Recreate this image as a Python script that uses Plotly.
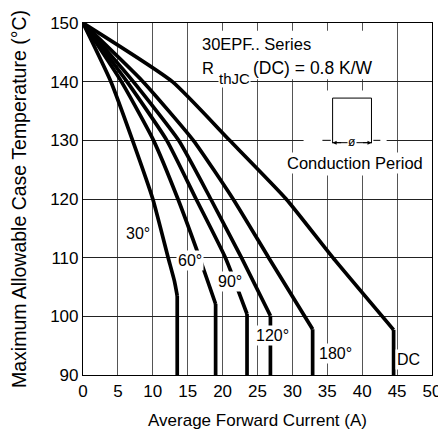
import plotly.graph_objects as go

# ---- data ----
series_names = ["30°", "60°", "90°", "120°", "180°", "DC"]
# curved part of each curve (temperature vs current), ending at the knee
temps_30 = [150, 140, 130, 120, 110, 106, 103.5]
curr_30 = [0, 4.0, 7.1, 10.0, 12.2, 13.1, 13.5]
temps_60 = [150, 140, 130, 120, 110, 102.1]
curr_60 = [0, 5.5, 10.1, 13.6, 16.7, 19.0]
temps_90 = [150, 140, 130, 120, 110, 100.4]
curr_90 = [0, 6.3, 12.0, 16.2, 20.4, 23.5]
temps_120 = [150, 140, 130, 120, 110, 100.1]
curr_120 = [0, 7.2, 13.7, 18.3, 22.7, 26.85]
temps_180 = [150, 140, 130, 120, 110, 97.8]
curr_180 = [0, 8.6, 15.8, 21.5, 26.6, 32.9]
temps_dc = [150, 140, 130, 120, 110, 97.7]
curr_dc = [0, 12.8, 21.0, 29.1, 35.8, 44.5]
t_min = 90  # the curves drop vertically from the knee down to this temperature

label_x = [7.86, 15.4, 21.1, 27.2, 36.2, 46.7]
label_y = [114.2, 109.6, 105.9, 96.8, 93.7, 92.7]

x_ticks = [0, 5, 10, 15, 20, 25, 30, 35, 40, 45, 50]
y_ticks = [90, 100, 110, 120, 130, 140, 150]

FONT = "Liberation Sans, Arial, sans-serif"

fig = go.Figure()
all_series = [(curr_30, temps_30), (curr_60, temps_60), (curr_90, temps_90),
              (curr_120, temps_120), (curr_180, temps_180), (curr_dc, temps_dc)]
for name, (xs, ys) in zip(series_names, all_series):
    fig.add_trace(go.Scatter(x=xs, y=ys, mode="lines", name=name,
                             line=dict(color="black", width=3.7, shape="spline", smoothing=0.5),
                             showlegend=False, hoverinfo="skip"))
    fig.add_trace(go.Scatter(x=[xs[-1], xs[-1]], y=[ys[-1], t_min], mode="lines",
                             line=dict(color="black", width=3.7),
                             showlegend=False, hoverinfo="skip"))

shapes = [
    # white box behind title text
    dict(type="rect", xref="x", yref="y", x0=15.5, x1=44.5, y0=140.4, y1=148.7,
         fillcolor="white", line=dict(width=0), layer="above"),
    # white box behind the conduction-period inset
    dict(type="rect", xref="x", yref="y", x0=31.6, x1=43.5, y0=124.0, y1=138.5,
         fillcolor="white", line=dict(width=0), layer="above"),
    # pulse
    dict(type="path", xref="x", yref="y",
         path="M 35.76 129.5 L 35.76 137.2 L 41.33 137.2 L 41.33 129.5",
         line=dict(color="black", width=1), layer="above"),
    # dashes of the baseline
    dict(type="line", xref="x", yref="y", x0=34.3, x1=35.5, y0=130, y1=130,
         line=dict(color="black", width=1), layer="above"),
    dict(type="line", xref="x", yref="y", x0=41.6, x1=42.6, y0=130, y1=130,
         line=dict(color="black", width=1), layer="above"),
    # arrow line
    dict(type="line", xref="x", yref="y", x0=35.76, x1=41.33, y0=129.6, y1=129.6,
         line=dict(color="black", width=1), layer="above"),
]

annotations = []
for t, x, y in zip(series_names, label_x, label_y):
    annotations.append(dict(x=x, y=y, xref="x", yref="y", text=t, showarrow=False,
                            bgcolor="white", borderpad=1,
                            font=dict(family=FONT, size=16, color="black")))
annotations += [
    dict(x=16.8, y=146.5, xref="x", yref="y", text="30EPF.. Series", showarrow=False,
         xanchor="left", font=dict(family=FONT, size=16.5, color="black")),
    dict(x=16.8, y=142.3, xref="x", yref="y", text="R", showarrow=False,
         xanchor="left", font=dict(family=FONT, size=16.5, color="black")),
    dict(x=19.3, y=140.6, xref="x", yref="y", text="thJC", showarrow=False,
         xanchor="left", bgcolor="white", borderpad=0,
         font=dict(family=FONT, size=15, color="black")),
    dict(x=24.1, y=142.3, xref="x", yref="y", text="(DC) = 0.8 K/W", showarrow=False,
         xanchor="left", font=dict(family=FONT, size=17.5, color="black")),
    dict(x=39.0, y=126.1, xref="x", yref="y", text="Conduction Period", showarrow=False,
         bgcolor="white", borderpad=1, font=dict(family=FONT, size=16.5, color="black")),
    # arrowheads
    dict(x=35.76, y=129.6, ax=37.2, ay=129.6, xref="x", yref="y", axref="x", ayref="y",
         text="", showarrow=True, arrowhead=2, arrowsize=0.8, arrowwidth=1, arrowcolor="black"),
    dict(x=41.33, y=129.6, ax=39.9, ay=129.6, xref="x", yref="y", axref="x", ayref="y",
         text="", showarrow=True, arrowhead=2, arrowsize=0.8, arrowwidth=1, arrowcolor="black"),
    dict(x=38.55, y=129.8, xref="x", yref="y", text="ø", showarrow=False,
         bgcolor="white", borderpad=0, font=dict(family=FONT, size=12, color="black")),
]

# the page body adds an 8px margin, so the figure is sized to fit the 446x441 window
fig.update_layout(
    width=438, height=433,
    margin=dict(l=75, r=14, t=15, b=66),
    paper_bgcolor="white", plot_bgcolor="white",
    shapes=shapes, annotations=annotations,
    font=dict(family=FONT, size=16, color="black"),
    xaxis=dict(range=[0, 50], tickvals=x_ticks, ticktext=[str(v) for v in x_ticks],
               showgrid=True, gridcolor="#555", gridwidth=1,
               showline=True, linecolor="black", linewidth=1.2, mirror=True,
               ticks="", zeroline=False, automargin=False,
               title=dict(text="Average Forward Current (A)", font=dict(size=17), standoff=14),
               tickfont=dict(size=17)),
    yaxis=dict(range=[90, 150], tickvals=y_ticks, ticktext=[str(v) for v in y_ticks],
               showgrid=True, gridcolor="#222", gridwidth=1,
               showline=True, linecolor="black", linewidth=1.2, mirror=True,
               ticks="", zeroline=False, automargin=False,
               title=dict(text="Maximum Allowable Case Temperature (°C)", font=dict(size=19.5), standoff=20),
               tickfont=dict(size=17)),
)

fig.write_html("out.html")
